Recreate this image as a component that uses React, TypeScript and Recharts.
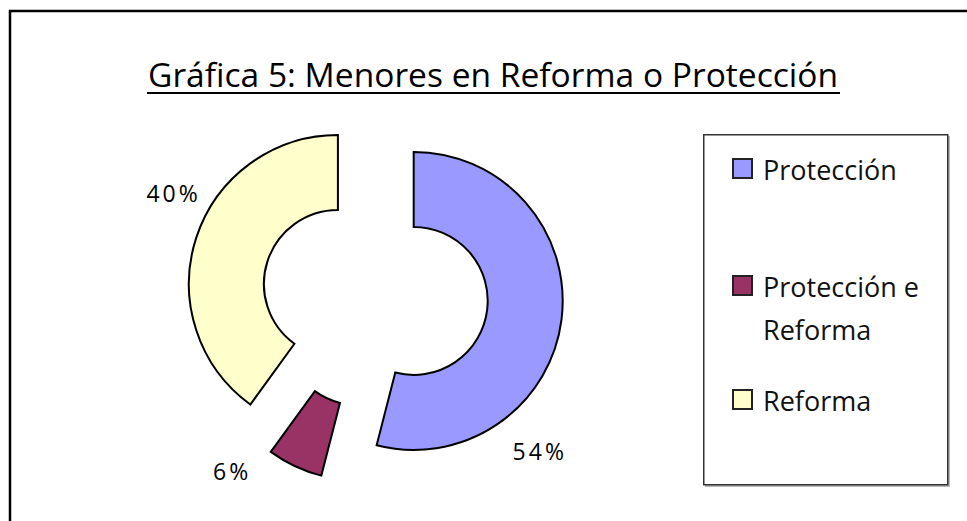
import React from "react";
import { PieChart, Pie, Cell, Legend, Sector } from "recharts";

// datos
const categorias = ["Protección", "Protección e Reforma", "Reforma"];
const valores = [54, 6, 40];
const colores = ["#9999FF", "#993366", "#FFFFCC"];

const titulo = "Gráfica 5: Menores en Reforma o Protección";

const data = categorias.map((name, i) => ({ name, value: valores[i] }));

const RAD = Math.PI / 180;
const EXPLODE = 39;
const FONT = "'Open Sans', 'DejaVu Sans', sans-serif";

// separa cada porción del centro según su ángulo medio
function ExplodedSector(props: any) {
  const { cx, cy, midAngle } = props;
  const dx = EXPLODE * Math.cos(-midAngle * RAD);
  const dy = EXPLODE * Math.sin(-midAngle * RAD);
  return <Sector {...props} cx={cx + dx} cy={cy + dy} />;
}

// Excel colocó las etiquetas algo giradas respecto al centro de cada porción
const labelShift = [-36, -14, -9];

function renderLabel(props: any) {
  const { cx, cy, midAngle, outerRadius, percent, index } = props;
  const a = (midAngle + labelShift[index]) * RAD;
  const r = outerRadius + 77;
  const x = cx + r * Math.cos(-a);
  const y = cy + r * Math.sin(-a);
  return (
    <text
      x={x}
      y={y}
      textAnchor="middle"
      dominantBaseline="central"
      fontFamily={FONT}
      fontSize={23}
      fontWeight={500}
      letterSpacing={3}
      fill="#000"
    >
      {`${Math.round(percent * 100)}%`}
    </text>
  );
}

function wrap(label: string, maxChars: number) {
  const lines: string[] = [];
  let cur = "";
  label.split(" ").forEach((w) => {
    const next = cur ? `${cur} ${w}` : w;
    if (next.length > maxChars && cur) {
      lines.push(cur);
      cur = w;
    } else {
      cur = next;
    }
  });
  if (cur) lines.push(cur);
  return lines;
}

function LegendBox({ payload }: any) {
  const items = payload || [];
  const rowTops = [25, 142, 256];
  return (
    <svg width={248} height={354} style={{ display: "block" }}>
      <rect x={2} y={2} width={245} height={351} fill="#bbb" />
      <rect x={0.75} y={0.75} width={244} height={350} fill="#fff" stroke="#333" strokeWidth={1.5} />
      {items.map((entry: any, i: number) => {
        const top = rowTops[i] ?? 25 + i * 115;
        const lines = wrap(String(entry.value), 12);
        return (
          <g key={entry.value}>
            <rect x={30} y={top} width={19} height={19} fill={entry.color} stroke="#222" strokeWidth={2} />
            {lines.map((ln, j) => (
              <text
                key={ln}
                x={60}
                y={top + 21 + j * 43}
                fontFamily={FONT}
                fontSize={27}
                fill="#111"
              >
                {ln}
              </text>
            ))}
          </g>
        );
      })}
    </svg>
  );
}

export default function App() {
  return (
    <div style={{ position: "absolute", left: 0, top: 0, width: 967, height: 521, background: "#fff" }}>
      <svg
        width={967}
        height={521}
        style={{ position: "absolute", left: 0, top: 0, pointerEvents: "none" }}
      >
        <line x1={9} y1={11} x2={967} y2={11} stroke="#000" strokeWidth={2.5} />
        <line x1={10} y1={10} x2={10} y2={521} stroke="#000" strokeWidth={2.5} />
        <text
          x={148}
          y={87}
          fontFamily={FONT}
          fontSize={32}
          textLength={690}
          lengthAdjust="spacingAndGlyphs"
          fill="#000"
        >
          {titulo}
        </text>
        <line x1={147} y1={93} x2={840} y2={93} stroke="#000" strokeWidth={2} />
      </svg>
      <div style={{ position: "absolute", left: 0, top: 0 }}>
        <PieChart width={967} height={521} margin={{ top: 0, right: 0, bottom: 0, left: 0 }}>
          <Pie
            data={data}
            dataKey="value"
            nameKey="name"
            cx={375}
            cy={296}
            innerRadius={74}
            outerRadius={149}
            startAngle={90}
            endAngle={-270}
            stroke="#000"
            strokeWidth={2}
            shape={ExplodedSector}
            activeShape={ExplodedSector}
            inactiveShape={ExplodedSector}
            label={renderLabel}
            labelLine={false}
            isAnimationActive={false}
          >
            {data.map((d, i) => (
              <Cell key={d.name} fill={colores[i]} />
            ))}
          </Pie>
          <Legend
            layout="vertical"
            align="right"
            verticalAlign="top"
            content={<LegendBox />}
            wrapperStyle={{ position: "absolute", left: 703, top: 134, width: 248, height: 354 }}
          />
        </PieChart>
      </div>
    </div>
  );
}
